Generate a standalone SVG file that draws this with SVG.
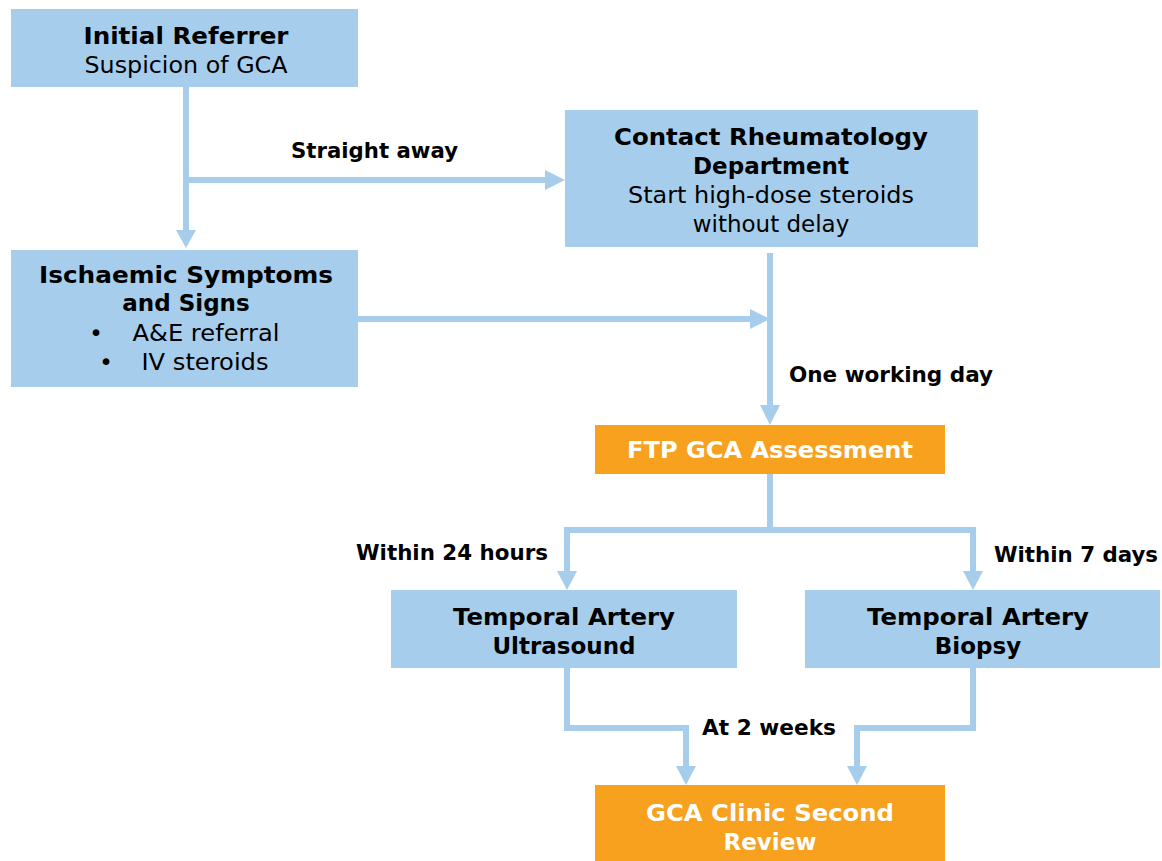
<svg xmlns="http://www.w3.org/2000/svg" width="1162" height="861" viewBox="0 0 1162 861">
<style>
.box{fill:#A6CEEC}
.org{fill:#F7A11E}
.t{font-family:"DejaVu Sans","Liberation Sans",sans-serif;font-size:23px;fill:#000;text-anchor:middle}
.b{font-weight:bold}
.w{fill:#fff}
.lbl{font-family:"DejaVu Sans","Liberation Sans",sans-serif;font-size:22px;font-weight:bold;fill:#000}
.c{fill:none;stroke:#A6CEEC;stroke-width:6}
.ah{fill:#A6CEEC}
</style>
<rect width="1162" height="861" fill="#fff"/>
<g id="connectors">
<path class="c" d="M186,87 V232"/>
<polygon class="ah" points="176,230 196,230 186,248"/>
<path class="c" d="M186,180 H548"/>
<polygon class="ah" points="545,170 545,190 565,180"/>
<path class="c" d="M358,319 H752"/>
<polygon class="ah" points="750,309 750,329 770,319"/>
<path class="c" d="M770,253 V408"/>
<polygon class="ah" points="760,405 780,405 770,425"/>
<path class="c" d="M770,474 V530 M567,530 H973 M567,527 V574 M973,527 V574"/>
<polygon class="ah" points="557,571 577,571 567,590"/>
<polygon class="ah" points="963,571 983,571 973,590"/>
<path class="c" d="M567,668 V728 H686 V769"/>
<polygon class="ah" points="676,766 696,766 686,785"/>
<path class="c" d="M973,668 V728 H857 V769"/>
<polygon class="ah" points="847,766 867,766 857,785"/>
</g>
<g id="labels">
<text class="lbl" x="291" y="158" textLength="167" lengthAdjust="spacingAndGlyphs">Straight away</text>
<text class="lbl" x="789" y="382" textLength="204" lengthAdjust="spacingAndGlyphs">One working day</text>
<text class="lbl" x="356" y="560" textLength="192" lengthAdjust="spacingAndGlyphs">Within 24 hours</text>
<text class="lbl" x="994" y="562" textLength="164" lengthAdjust="spacingAndGlyphs">Within 7 days</text>
<text class="lbl" x="702" y="735" textLength="134" lengthAdjust="spacingAndGlyphs">At 2 weeks</text>
</g>
<g id="initial">
<rect class="box" x="11" y="9" width="347" height="78"/>
<text class="t b" x="186" y="44" textLength="205" lengthAdjust="spacingAndGlyphs">Initial Referrer</text>
<text class="t" x="186" y="73" textLength="203" lengthAdjust="spacingAndGlyphs">Suspicion of GCA</text>
</g>
<g id="contact">
<rect class="box" x="565" y="110" width="413" height="137"/>
<text class="t b" x="771" y="145" textLength="314" lengthAdjust="spacingAndGlyphs">Contact Rheumatology</text>
<text class="t b" x="771" y="174">Department</text>
<text class="t" x="771" y="203" textLength="286" lengthAdjust="spacingAndGlyphs">Start high-dose steroids</text>
<text class="t" x="771" y="232">without delay</text>
</g>
<g id="ischaemic">
<rect class="box" x="11" y="250" width="347" height="137"/>
<text class="t b" x="186" y="283" textLength="294" lengthAdjust="spacingAndGlyphs">Ischaemic Symptoms</text>
<text class="t b" x="186" y="311">and Signs</text>
<text class="t" x="96" y="341">•</text>
<text class="t" x="206" y="341" textLength="147" lengthAdjust="spacingAndGlyphs">A&amp;E referral</text>
<text class="t" x="106" y="370">•</text>
<text class="t" x="205" y="370" textLength="127" lengthAdjust="spacingAndGlyphs">IV steroids</text>
</g>
<g id="ftp">
<rect class="org" x="595" y="425" width="350" height="49"/>
<text class="t b w" x="770" y="458" textLength="286" lengthAdjust="spacingAndGlyphs">FTP GCA Assessment</text>
</g>
<g id="ultrasound">
<rect class="box" x="391" y="590" width="346" height="78"/>
<text class="t b" x="564" y="625" textLength="222" lengthAdjust="spacingAndGlyphs">Temporal Artery</text>
<text class="t b" x="564" y="654">Ultrasound</text>
</g>
<g id="biopsy">
<rect class="box" x="805" y="590" width="355" height="78"/>
<text class="t b" x="978" y="625" textLength="222" lengthAdjust="spacingAndGlyphs">Temporal Artery</text>
<text class="t b" x="978" y="654">Biopsy</text>
</g>
<g id="clinic">
<rect class="org" x="595" y="785" width="350" height="76"/>
<text class="t b w" x="770" y="821" textLength="248" lengthAdjust="spacingAndGlyphs">GCA Clinic Second</text>
<text class="t b w" x="770" y="850">Review</text>
</g>
</svg>
